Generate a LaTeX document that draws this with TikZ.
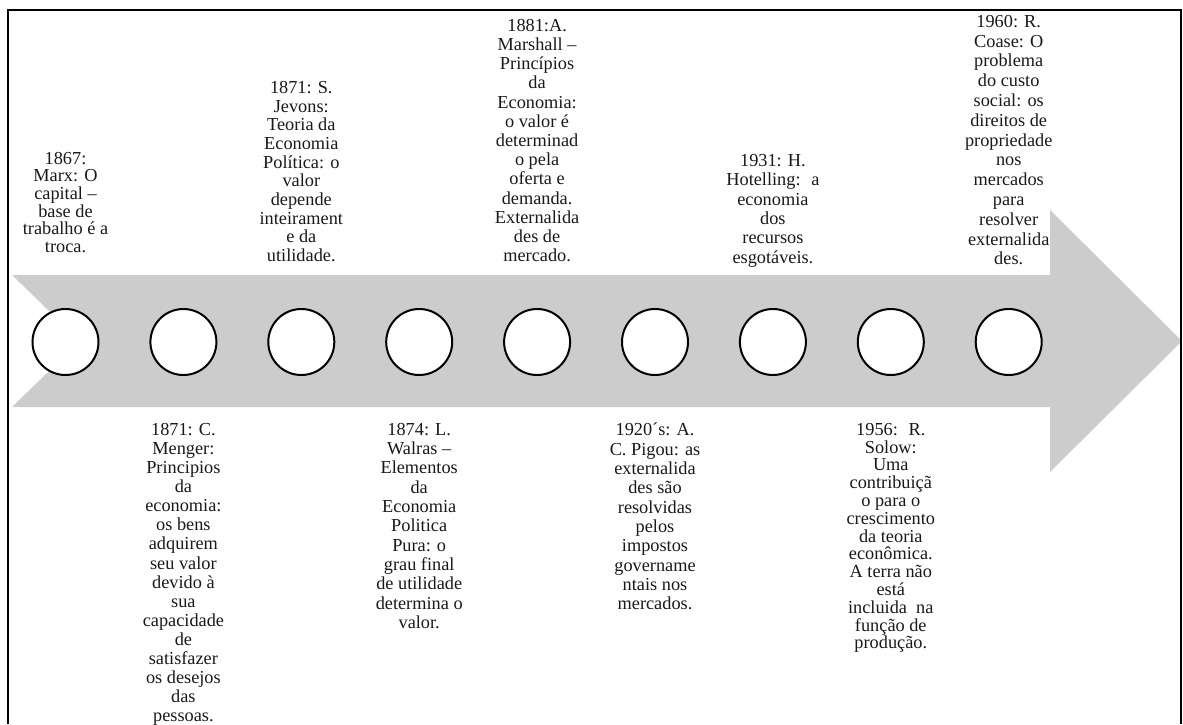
\documentclass[tikz,border=0pt]{standalone}
\usepackage{fontspec}
\setmainfont{Liberation Serif}
\begin{document}
\begin{tikzpicture}[x=1pt,y=-1pt,
  txt/.style 2 args={align=center, inner sep=0pt, anchor=north, text=black!90, font=\fontsize{#1}{#2}\selectfont},
  dot/.style={circle, draw=black, line width=2pt, fill=white, minimum size=66pt, inner sep=0pt},
  band/.style={fill=black!20, draw=none},
  frame/.style={draw=black, line width=2pt}]
\useasboundingbox (0,0) rectangle (1183,724);
% arrow
\fill[band] (12,275) -- (1050,275) -- (1050,210) -- (1182,341) -- (1050,472) -- (1050,407) -- (12,407) -- (80,341) -- cycle;
% frame
\draw[frame] (8,724) -- (8,10) -- (1181,10) -- (1181,724);
% circles
\foreach \i in {1,...,9} {
  \node[dot] (c\i) at ({65.5+117.9*(\i-1)},342) {};
}
% top texts
\node[txt={18.3}{17.6}] (t1) at (65.5,152) {1867:\\Marx: O\\capital --\\base de\\trabalho é a\\troca.};
\node[txt={18.3}{18.7}] (t3) at (301.3,81) {1871: S.\\Jevons:\\Teoria da\\Economia\\Política: o\\valor\\depende\\inteirament\\e da\\utilidade.};
\node[txt={18.3}{19.2}] (t5) at (537.1,19) {1881:A.\\Marshall --\\Princípios\\da\\Economia:\\o valor é\\determinad\\o pela\\oferta e\\demanda.\\Externalida\\des de\\mercado.};
\node[txt={18.3}{19.4}] (t7) at (772.9,154) {1931: H.\\Hotelling: \ a\\economia\\dos\\recursos\\esgotáveis.};
\node[txt={18.3}{19.8}] (t9) at (1008.7,15) {1960: R.\\Coase: O\\problema\\do custo\\social: os\\direitos de\\propriedade\\nos\\mercados\\para\\resolver\\externalida\\des.};
% bottom texts
\node[txt={18.3}{19.1}] (t2) at (183.4,423) {1871: C.\\Menger:\\Principios\\da\\economia:\\os bens\\adquirem\\seu valor\\devido à\\sua\\capacidade\\de\\satisfazer\\os desejos\\das\\pessoas.};
\node[txt={18.3}{19.3}] (t4) at (419.2,423) {1874: L.\\Walras --\\Elementos\\da\\Economia\\Politica\\Pura: o\\grau final\\de utilidade\\determina o\\valor.};
\node[txt={18.3}{19.3}] (t6) at (655,423) {1920´s: A.\\C. Pigou: as\\externalida\\des são\\resolvidas\\pelos\\impostos\\govername\\ntais nos\\mercados.};
\node[txt={18.3}{17.8}] (t8) at (890.8,423) {1956: \ R.\\Solow:\\Uma\\contribuiçã\\o para o\\crescimento\\da teoria\\econômica.\\A terra não\\está\\incluida \ na\\função de\\produção.};
\end{tikzpicture}
\end{document}
